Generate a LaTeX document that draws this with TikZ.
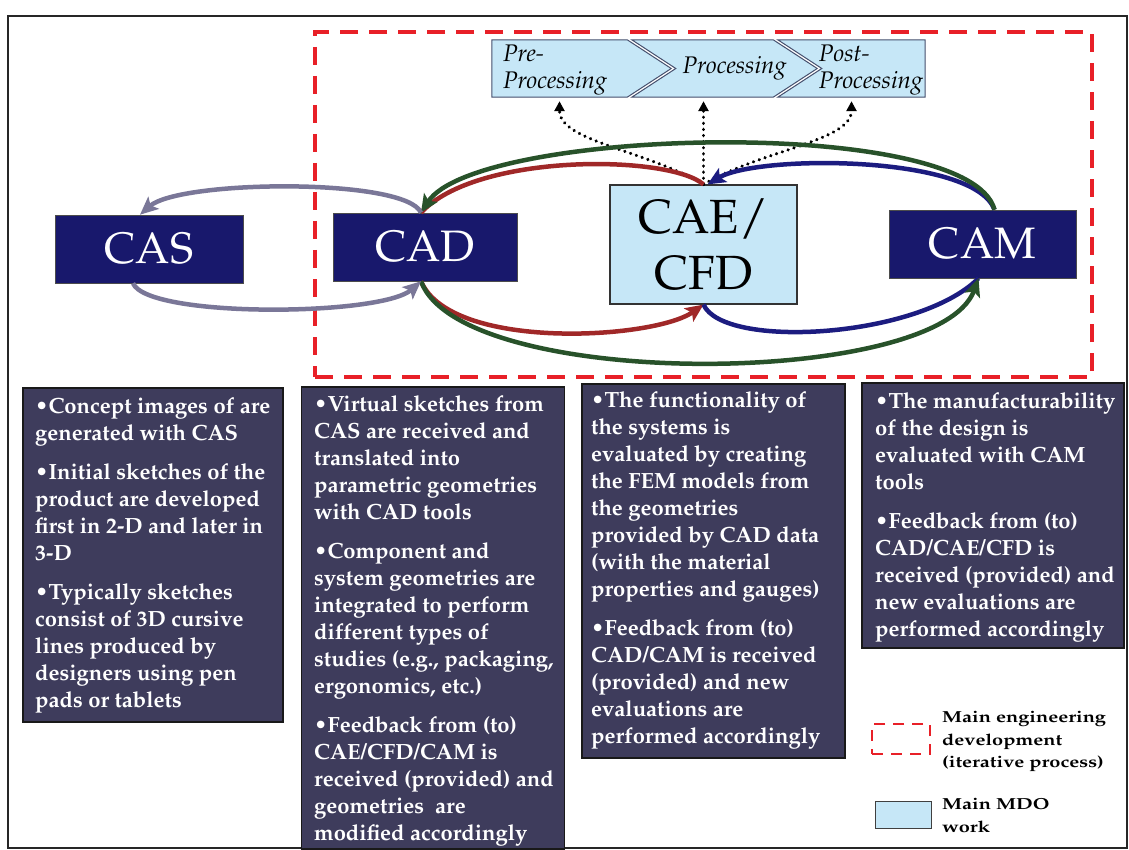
\documentclass[tikz,border=0pt]{standalone}
\usepackage[T1]{fontenc}
\usepackage{mathpazo}
\usetikzlibrary{arrows.meta}

\definecolor{navyfill}{RGB}{24,24,108}
\definecolor{mdoblue}{RGB}{198,231,247}
\definecolor{slatefill}{RGB}{62,60,92}
\definecolor{dashred}{RGB}{232,32,40}
\definecolor{loopgray}{RGB}{122,119,152}
\definecolor{loopgreen}{RGB}{40,82,42}
\definecolor{loopred}{RGB}{160,40,40}
\definecolor{loopblue}{RGB}{28,28,128}
\definecolor{chevline}{RGB}{70,80,110}

\begin{document}
\begin{tikzpicture}[x=1pt,y=-1pt,
  toolbox/.style={draw=black!70, line width=0.6pt, fill=navyfill, text=white,
    font=\fontsize{44}{50}\selectfont, inner sep=0pt},
  mdobox/.style={draw=black!80, line width=1.2pt, fill=mdoblue, text=black,
    font=\fontsize{48}{56}\selectfont, align=center, inner sep=0pt},
  engbox/.style={draw=dashred, line width=3.2pt, dash pattern=on 18pt off 11pt, inner sep=0pt},
  chevcell/.style={inner sep=0pt, minimum height=57pt},
  chevshape/.style={draw=chevline, line width=1pt, fill=mdoblue},
  chevtext/.style={font=\itshape\fontsize{24}{27}\selectfont, align=left, inner sep=0pt},
  descbox/.style={draw=black!90, line width=1.3pt, fill=slatefill, inner sep=0pt},
  desctext/.style={text=white, font=\bfseries\fontsize{22}{27}\selectfont, align=left,
    inner sep=0pt, anchor=north west},
  legtext/.style={font=\bfseries\fontsize{16}{22.5}\selectfont, inner sep=0pt, anchor=north west},
  legdash/.style={draw=dashred, line width=2.6pt, dash pattern=on 11pt off 8pt, inner sep=0pt},
  legmdo/.style={draw=black!75, line width=1pt, fill=mdoblue, inner sep=0pt},
  flow/.style={line width=4.5pt, -{Stealth[length=18pt,width=16pt,inset=4pt]}},
  flowplain/.style={line width=4.5pt},
  dotarrow/.style={line width=3.4pt, line cap=round, dash pattern=on 0.1pt off 6pt,
    -{Triangle[length=10pt,width=10pt]}}
]
\useasboundingbox (0,0) rectangle (1129,850);
\fill[white] (0,0) rectangle (1129,850);
\draw[line width=1.4pt, black!85] (8,16) rectangle (1127,848);

% iterative engineering region
\node[engbox, minimum width=777pt, minimum height=345pt] (eng) at (703.5,204.5) {};

% processing chevrons
\node[chevcell, minimum width=135pt] (chevA) at (559.5,68.5) {};
\node[chevcell, minimum width=141pt] (chevB) at (702.5,68.5) {};
\node[chevcell, minimum width=147pt] (chevC) at (851.5,68.5) {};
\draw[chevshape] (chevA.north west) -- (chevA.north east) -- ([xshift=44pt]chevA.east)
  -- (chevA.south east) -- (chevA.south west) -- cycle;
\draw[chevshape] (chevB.north west) -- (chevB.north east) -- ([xshift=44pt]chevB.east)
  -- (chevB.south east) -- (chevB.south west) -- ([xshift=44pt]chevB.west) -- cycle;
\draw[chevshape] (chevC.north west) -- (chevC.north east) -- (chevC.south east)
  -- (chevC.south west) -- ([xshift=44pt]chevC.west) -- cycle;
\node[chevtext, anchor=west] (pre) at ([xshift=11pt,yshift=-1pt]chevA.west) {Pre-\\Processing};
\node[chevtext] (proc) at ([xshift=32pt]chevB.center) {Processing};
\node[chevtext, anchor=east] (post) at ([xshift=-2pt,yshift=-1pt]chevC.east) {Post-\\Processing};
\coordinate (preIn) at ([yshift=-4pt]chevA.south);
\coordinate (procIn) at ([yshift=-4pt]chevB.south);
\coordinate (postIn) at ([yshift=-4pt]chevC.south);

% tool blocks
\node[toolbox, minimum width=188pt, minimum height=68pt] (cas) at (149,249) {CAS};
\node[toolbox, minimum width=184pt, minimum height=68pt] (cad) at (425,247) {CAD};
\node[mdobox, minimum width=187pt, minimum height=119pt] (cae) at (703.5,244.5) {CAE/\\CFD};
\node[toolbox, minimum width=187pt, minimum height=68pt] (cam) at (982.5,244) {CAM};

% dotted links to the processing steps
\draw[dotarrow] (cae.north) .. controls +(-60,-35) and +(0,40) .. (preIn);
\draw[dotarrow] (cae.north) -- (cae.north |- procIn);
\draw[dotarrow] (cae.north) .. controls +(60,-35) and +(0,40) .. (postIn);

% CAE/CFD loops
\draw[flowplain, loopred] (cae.north) .. controls +(-35,-30) and +(55,-60) .. ([xshift=-4pt]cad.north);
\draw[flow, loopred] ([xshift=-4pt]cad.south) .. controls +(30,70) and +(-50,35) .. (cae.south);
\draw[flow, loopblue] ([xshift=12pt]cam.north) .. controls +(-20,-55) and +(50,-30) .. ([xshift=4pt]cae.north);
\draw[flowplain, loopblue] (cae.south) .. controls +(20,45) and +(-60,60) .. ([xshift=-4pt]cam.south);

% CAD / CAM loop
\draw[flow, loopgreen] ([xshift=12pt]cam.north) .. controls +(-25,-95) and +(55,-85) .. ([xshift=-4pt]cad.north);
\draw[flow, loopgreen] ([xshift=-4pt]cad.south) .. controls +(40,110) and +(-40,110) .. ([xshift=-4pt]cam.south);

% CAS / CAD loop
\draw[flow, loopgray] ([xshift=-4pt]cad.north) .. controls +(-15,-35) and +(40,-35) .. ([xshift=-9pt]cas.north);
\draw[flow, loopgray] ([xshift=-16pt]cas.south) .. controls +(15,35) and +(-40,35) .. ([xshift=-4pt]cad.south);

% description panels
\node[descbox, minimum width=260pt, minimum height=334pt] (d1) at (153,555) {};
\node[descbox, minimum width=263pt, minimum height=462pt] (d2) at (433,618) {};
\node[descbox, minimum width=263pt, minimum height=374pt] (d3) at (713.5,571) {};
\node[descbox, minimum width=262pt, minimum height=265pt] (d4) at (993,515.5) {};

\node[desctext] (t1) at (35,397) {%
\textbullet Concept images of are\\ generated with CAS\\[12pt]
\textbullet Initial sketches of the\\ product are developed\\ first in 2-D and later in\\ 3-D\\[12pt]
\textbullet Typically sketches\\ consist of 3D cursive\\ lines produced by\\ designers using pen\\ pads or tablets};

\node[desctext] (t2) at (314,395) {%
\textbullet Virtual sketches from\\ CAS are received and\\ translated into\\ parametric geometries\\ with CAD tools\\[12pt]
\textbullet Component and\\ system geometries are\\ integrated to perform\\ different types of\\ studies (e.g., packaging,\\ ergonomics, etc.)\\[12pt]
\textbullet Feedback from (to)\\ CAE/CFD/CAM is\\ received (provided) and\\ geometries\ \ are\\ modified accordingly};

\node[desctext] (t3) at (591,391) {%
\textbullet The functionality of\\ the systems is\\ evaluated by creating\\ the FEM models from\\ the geometries\\ provided by CAD data\\ (with the material\\ properties and gauges)\\[12pt]
\textbullet Feedback from (to)\\ CAD/CAM is received\\ (provided) and new\\ evaluations are\\ performed accordingly};

\node[desctext] (t4) at (875,392) {%
\textbullet The manufacturability\\ of the design is\\ evaluated with CAM\\ tools\\[12pt]
\textbullet Feedback from (to)\\ CAD/CAE/CFD is\\ received (provided) and\\ new evaluations are\\ performed accordingly};

% legend
\node[legdash, minimum width=58pt, minimum height=30pt] (legA) at (901,739) {};
\node[legtext] (legAtext) at (942,707) {\scalebox{1.25}[1]{\begin{tabular}{@{}l@{}}Main engineering\\development\\(iterative process)\end{tabular}}};
\node[legmdo, minimum width=56pt, minimum height=27pt] (legB) at (903,814.5) {};
\node[legtext] (legBtext) at (942,794) {\scalebox{1.25}[1]{\begin{tabular}{@{}l@{}}Main MDO\\work\end{tabular}}};
\end{tikzpicture}
\end{document}
